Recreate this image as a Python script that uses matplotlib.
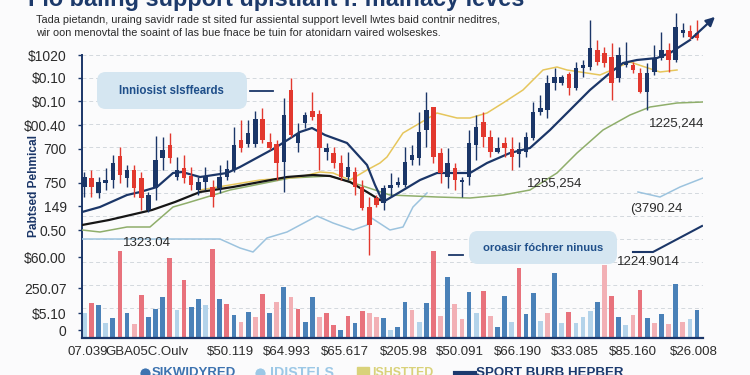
import matplotlib
matplotlib.use('Agg')
import matplotlib.pyplot as plt
from matplotlib import font_manager
from matplotlib.patches import FancyBboxPatch
from matplotlib.lines import Line2D
import numpy as np

names = {f.name for f in font_manager.fontManager.ttflist}
NARROW = 'Liberation Sans Narrow' if 'Liberation Sans Narrow' in names else 'Liberation Sans'

# ---------------- data ----------------
opens  = [151,160,145,155,158,182,160,168,160,128,150,180,193,161,170,162,148,156,151,150,161,168,198,194,194,219,196,194,176,248,
          195,215,227,224,186,185,175,161,166,151,131,140,135,150,153,153,178,180,208,231,185,161,170,156,161,193,216,201,186,195,
          189,184,186,200,226,228,255,255,264,250,270,271,288,285,281,260,273,273,265,246,266,280,288,278,305,307,305]
closes = [161,151,156,158,175,163,168,150,140,143,178,188,180,168,160,153,156,161,141,161,169,193,190,205,219,198,190,175,223,203,
          205,223,221,190,190,175,161,171,151,130,113,133,150,153,156,176,183,206,228,181,165,175,158,158,195,211,201,186,190,190,
          181,189,201,226,230,255,261,261,250,270,273,290,276,275,255,283,276,268,246,265,280,288,278,311,308,301,300]
highs  = [166,168,161,170,183,191,173,173,166,146,202,201,205,181,183,171,161,171,158,173,178,211,218,218,227,230,205,198,240,260,
          215,226,246,228,195,191,183,186,171,158,141,143,153,165,161,191,193,226,246,231,190,190,175,161,208,223,226,208,201,201,
          201,196,206,236,243,263,270,263,266,276,278,318,298,291,295,291,296,276,270,275,293,306,295,325,315,313,318]
lows   = [141,141,140,148,150,155,151,141,128,126,138,168,175,158,155,148,143,148,131,145,158,166,186,191,191,195,188,158,146,201,
          186,210,218,168,178,170,158,158,143,128,83,131,128,141,151,151,173,173,191,175,155,150,148,141,153,178,191,181,185,181,
          168,171,181,198,223,220,248,253,243,248,261,268,273,271,238,256,271,265,245,228,263,278,266,276,301,299,298]
volumes = [25,35,33,15,20,87,25,14,43,21,29,41,80,28,58,31,39,33,89,39,34,23,16,26,21,44,25,36,51,41,
           29,16,41,21,25,13,8,22,15,27,25,21,20,8,11,36,28,16,35,87,22,61,34,19,46,25,47,22,11,42,
           16,70,24,45,17,25,65,15,26,15,21,27,36,73,42,21,13,23,48,20,15,24,14,54,16,19,28]
volume_kind = list("lrblbrbprbbbrlrbblrbrbpbprbpbprbbprrbrbrppblbbplbrpbppblrpbblrbblpblrlllbprblprbpbpbplb")

# moving averages: (candle index position, value)
navy_ma_x = [-0.31,2.20,5.99,7.82,10.20,12.45,13.71,16.24,17.22,20.03,21.85,26.76,30.27,31.96,33.78,36.87,39.68,40.80,41.92,
             44.31,47.12,49.50,51.75,54.13,56.52,59.75,62.55,65.36,68.17,70.97,73.78,75.61,77.57,80.38,82.20,85.01]
navy_ma_y = [126,131,143,146,151,165,166,161,162,165,171,190,206,210,203,195,173,153,136,
             146,158,165,165,165,175,185,190,208,228,248,265,275,278,280,285,298]
navy_arrow_end = (88.80, 323)
black_ma_x = [-0.31,3.47,9.50,12.73,16.24,20.87,24.66,28.45,32.10,34.48,37.29,39.68,41.50]
black_ma_y = [113,118,128,136,146,151,156,161,163,162,156,146,138]
green_x = [-0.31,2.20,5.99,9.22,12.45,14.41,20.45,28.87,34.48,38.69,42.90,49.50,54.13,58.76,62.55,66.34,69.15,72.80,
           76.59,79.40,83.19,86.84]
green_y = [108,106,111,111,131,135,148,160,162,153,143,141,140,143,148,165,185,208,223,231,235,236]
lblue_x = [-0.31,19.04,21.85,23.68,25.64,28.45,32.66,34.91,37.72,39.68,40.10,42.90,44.73,46.13,48.10,
           np.nan,77.71,80.80,83.61,86.84]
lblue_y = [99,99,90,86,100,106,122,115,108,113,121,108,111,131,145,np.nan,146,141,151,160]
yellow_x = [16.24,20.45,24.66,28.45,30.27,33.08,34.91,37.29,39.68,41.50,42.48,44.73,47.12,49.50,52.31,54.13,56.52,
            58.76,61.57,64.38,66.34,67.75,72.38,76.59,80.80,83.19]
yellow_y = [148,153,158,160,161,166,165,158,168,175,181,205,215,225,220,220,225,235,248,268,271,268,263,276,266,268]

ytick_pos = [283,260,237,213,189,155,132,108,81,50,25,8]
ytick_labels = ["$1020", "$0.10", "$0.10", "$00.40", "700", "750", "149", "0.50", "$60.00", "250.07", "$5.10", "0"]
xtick_labels = ["07.039", "GBA05C.Oulv", "$50.119", "$64.993", "$65.617", "$205.98", "$50.091",
                "$66.190", "$33.085", "$85.160", "$26.008"]
xtick_px = [88, 147, 230, 287, 345, 404, 460, 518, 575, 633, 694]
value_notes = [("1323.04", 147, 243), ("1225,244", 677, 124), ("1255,254", 555, 183),
               ("(3790.24", 656, 209), ("1224.9014", 648, 262)]

title = "Flo baling support uplstiant i: mainacy leves"
sub1 = "Tada pietandn, uraing savidr rade st sited fur assiental support levell lwtes baid contnir neditres,"
sub2 = "wir oon menovtal the soaint of las bue fnace be tuin for atonidarn vaired wolseskes."
ylabel = "Pabtsed Pehmical"
box1_text = "Inniosist slsffeards"
box2_text = "oroasir fóchrer ninuus"
legend_items = [("SIKWIDYRED", "globe", "#3d73b0"), ("IDISTELS", "globe", "#9cc8e6"),
                ("ISHSTTED", "square", "#d9d27a"), ("SPORT BURB HEPBER", "line", "#1c3a6e")]

# ---------------- style ----------------
NAVY = '#1b3668'
RED = '#e2382e'
VCOL = {'r': '#e8727c', 'p': '#f2b0b5', 'b': '#4a81b8', 'l': '#b3d3ea'}

W, H = 750, 375
fig = plt.figure(figsize=(7.5, 3.75), dpi=100)
fig.patch.set_facecolor('#fbfbfc')

PX0, STEP = 84.3, 7.125
def X(px): return (px - PX0) / STEP
def Y(py): return 338 - py

ax = fig.add_axes([82 / W, 37 / H, 621 / W, 328 / H])
ax.set_xlim(X(82), X(703))
ax.set_ylim(0, 328)
ax.set_facecolor('none')
for s in ['top', 'right']:
    ax.spines[s].set_visible(False)
ax.spines['left'].set_color(NAVY)
ax.spines['left'].set_linewidth(1.4)
ax.spines['left'].set_bounds(0, 283)
ax.spines['bottom'].set_color(NAVY)
ax.spines['bottom'].set_linewidth(1.6)

# grid
for gy in range(283, 20, -23):
    ax.axhline(gy, color='#d3d8de', lw=0.7, ls=(0, (4, 3)), zorder=0)

idx = np.arange(len(opens))
# volume
ax.bar(idx, volumes, width=0.66, color=[VCOL[k] for k in volume_kind], zorder=2)

# lines
ax.plot(lblue_x, lblue_y, color='#9cc3de', lw=1.1, zorder=3)
ax.plot(green_x, green_y, color='#8fae6b', lw=1.1, zorder=3)
ax.plot(yellow_x, yellow_y, color='#e6c65c', lw=1.1, zorder=3)
ax.plot(black_ma_x, black_ma_y, color='#161616', lw=1.6, zorder=3)
ax.plot(navy_ma_x, navy_ma_y, color=NAVY, lw=1.6, zorder=3)
ax.annotate('', xy=navy_arrow_end, xytext=(navy_ma_x[-1], navy_ma_y[-1]),
            arrowprops=dict(arrowstyle='-|>', color=NAVY, lw=1.6, mutation_scale=13),
            annotation_clip=False, zorder=6)

# candles
opens_a, closes_a = np.array(opens), np.array(closes)
cols = [NAVY if c >= o else RED for o, c in zip(opens, closes)]
ax.vlines(idx, lows, highs, colors=cols, lw=1.0, zorder=4)
body_h = np.maximum(np.abs(closes_a - opens_a), 2)
ax.bar(idx, body_h, bottom=np.minimum(opens_a, closes_a), width=0.62, color=cols, zorder=5)

# annotation boxes
def box(x0, y0, x1, y1):
    p = FancyBboxPatch((X(x0), Y(y1)), X(x1) - X(x0), Y(y0) - Y(y1),
                       boxstyle="round,pad=0,rounding_size=1.2", fc='#d5e6f1', ec='none',
                       zorder=6, mutation_aspect=8)
    ax.add_patch(p)
box(97, 72, 247, 109)
box(469, 231, 617, 264)
ax.plot([X(250), X(273)], [Y(91), Y(91)], color=NAVY, lw=1.3, zorder=6)
ax.plot([X(449), X(463)], [Y(255), Y(255)], color=NAVY, lw=1.3, zorder=6)
ax.plot([X(633), X(653), X(702)], [Y(252), Y(252), Y(226)], color=NAVY, lw=1.5, zorder=6)

texts_fit = []
t = ax.text(X(171), Y(91), box1_text, ha='center', va='center', color='#1f4f8a',
            fontfamily=NARROW, fontsize=10, fontweight='bold', zorder=7)
texts_fit.append((t, 105))
t = ax.text(X(543), Y(248), box2_text, ha='center', va='center', color='#1f4f8a',
            fontfamily=NARROW, fontsize=10, fontweight='bold', zorder=7)
texts_fit.append((t, 120))

for s, px, py in value_notes:
    ax.text(X(px), Y(py), s, ha='center', va='center', color='#2a2a2a',
            fontfamily=NARROW, fontsize=9.5, zorder=7)

# ticks
ax.set_yticks(ytick_pos)
ax.set_yticklabels(ytick_labels, fontfamily=NARROW, fontsize=10, color='#2b2b2b')
ax.tick_params(axis='y', length=3, width=1, color=NAVY, pad=8)
ax.set_xticks([X(p) for p in xtick_px])
ax.set_xticklabels(xtick_labels, fontfamily=NARROW, fontsize=9.5, color='#2b2b2b')
ax.tick_params(axis='x', length=0, pad=6)

# y label
yl = fig.text(34 / W, 1 - 186 / H, ylabel, rotation=90, ha='center', va='center',
              color=NAVY, fontfamily=NARROW, fontsize=11, fontweight='bold')

# titles
tt = fig.text(28 / W, 1 - 6 / H, title, ha='left', va='baseline', color='#1d3a6b',
              fontfamily=NARROW, fontsize=20, fontweight='bold')
s1 = fig.text(36 / W, 1 - 20 / H, sub1, ha='left', va='center', color='#2a2a2a',
              fontfamily=NARROW, fontsize=9)
s2 = fig.text(36 / W, 1 - 33 / H, sub2, ha='left', va='center', color='#2a2a2a',
              fontfamily=NARROW, fontsize=9)

# legend
leg_pos = [(145, 152, 84), (260, 270, 63), (363, 372, 61), (465, 476, 147)]
leg_texts = []
for (label, kind, col), (mx, tx, tw) in zip(legend_items, leg_pos):
    ly = 1 - 373 / H
    if kind == 'globe':
        fig.add_artist(Line2D([mx / W], [ly], marker='o', ms=8, mfc=col, mec='#ffffff',
                              mew=0.6, ls='none'))
    elif kind == 'square':
        fig.add_artist(Line2D([mx / W], [ly], marker='s', ms=8, mfc=col, mec=col, ls='none'))
    else:
        fig.add_artist(Line2D([(mx - 10) / W, (mx + 10) / W], [ly, ly], color=col, lw=3))
    lt = fig.text(tx / W, ly, label, ha='left', va='center', color=col,
                  fontfamily=NARROW, fontsize=11, fontweight='bold')
    leg_texts.append((lt, tw))

# fit text widths
fig.canvas.draw()
r = fig.canvas.get_renderer()
def fit(t, w, vertical=False):
    bb = t.get_window_extent(renderer=r)
    size = bb.height if vertical else bb.width
    if size > 0:
        t.set_fontsize(t.get_fontsize() * w / size)
fit(tt, 496)
fit(s1, 462)
s2.set_fontsize(s1.get_fontsize())
fit(yl, 102, vertical=True)
for t, w in texts_fit + leg_texts:
    fit(t, w)

fig.savefig('out.png', dpi=100, facecolor=fig.get_facecolor())
